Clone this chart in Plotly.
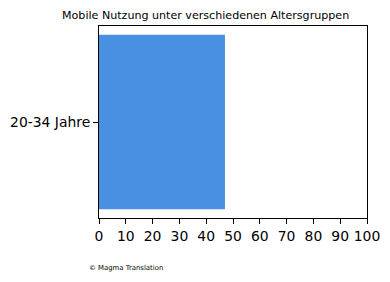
import plotly.graph_objects as go

categories = ["20-34 Jahre"]
values = [47]
x_ticks = list(range(0, 101, 10))

fig = go.Figure(go.Bar(
    x=values, y=categories, orientation="h",
    marker=dict(color="#4a90e2", line=dict(width=0)),
    width=0.8,
))

fig.update_layout(
    width=390, height=282,
    margin=dict(l=99, r=23, t=26, b=64),
    paper_bgcolor="white", plot_bgcolor="white",
    font=dict(family="DejaVu Sans", color="black", size=13.9),
    showlegend=False,
    annotations=[
        dict(text="Mobile Nutzung unter verschiedenen Altersgruppen",
             xref="paper", yref="paper", x=0.399, y=1, yshift=11,
             xanchor="center", yanchor="middle", showarrow=False,
             font=dict(size=11.1, family="DejaVu Sans")),
        dict(text="© Magma Translation",
             xref="paper", yref="paper", x=-0.045, y=0, yshift=-50,
             xanchor="left", yanchor="middle", showarrow=False,
             font=dict(size=6.9, family="DejaVu Sans")),
    ],
)
fig.update_xaxes(
    range=[0, 100], tickvals=x_ticks, ticks="outside", ticklen=5,
    tickcolor="black", showline=True, linecolor="black", linewidth=1,
    mirror=True, showgrid=False, zeroline=False, automargin=False,
    tickfont=dict(size=13.9),
)
fig.update_yaxes(
    range=[-0.44, 0.44], ticks="outside", ticklen=5, tickcolor="black",
    showline=True, linecolor="black", linewidth=1, mirror=True,
    showgrid=False, zeroline=False, automargin=False, tickfont=dict(size=13.9),
)

fig.write_html("out.html")
